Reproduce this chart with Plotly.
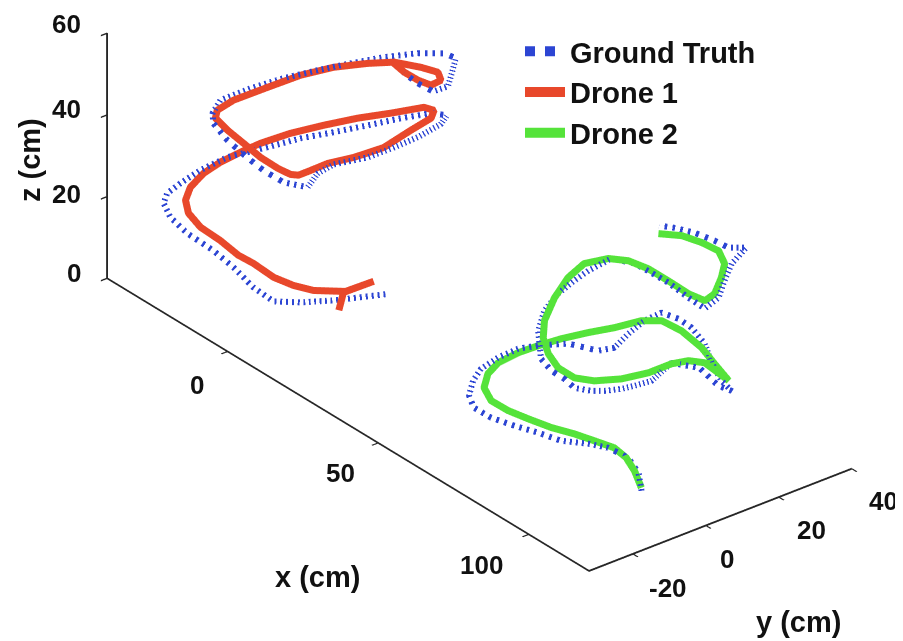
import plotly.graph_objects as go

# ---------------- data (cm) ----------------
# Drone 1 estimated trajectory
d1_x = [0.7, 0.8, 1.0, 2.1, -1.0, -3.9, -7.8, -12.4, -15.7, -20.3, -24.5, -26.7, -27.3, -26.9, -27.1, -25.9, -23.9,
        -22.9, -21.0, -18.0, -14.6, -10.6, -6.9, -3.9, -1.0, 1.1, 4.0, 4.1, 3.4, 4.2, 4.9, 4.3, 1.3, -3.2, -8.7,
        -13.8, -18.1, -19.1, -19.0, -17.5, -15.9, -12.9, -9.1, -5.4, 0.5, 5.0, 8.1, 8.4, 5.1, 0.6, -3.7]
d1_y = [-2.1, -0.9, 7.2, -1.4, -7.6, -10.7, -12.9, -14.7, -16.1, -17.3, -19.2, -20.7, -21.0, -20.0, -16.2, -12.6,
        -8.7, -4.1, 2.5, 9.2, 15.7, 21.5, 27.5, 27.8, 24.6, 17.3, 7.5, -0.8, -7.4, -12.7, -16.6, -18.3, -19.3, -20.3,
        -20.4, -20.6, -20.4, -19.1, -14.7, -6.6, 1.1, 7.7, 13.9, 18.1, 20.6, 21.5, 19.8, 16.8, 16.0, 15.9, 16.6]
d1_z = [0, 4, 4, 5, 6, 7, 8, 10, 11, 13, 15, 18, 21, 24, 26, 28, 30, 31, 32, 33, 34, 35, 36, 36.5, 37, 37.5, 38,
        38.5, 39, 39.5, 40, 40.5, 41, 42, 43, 44, 45, 46, 47, 48, 49, 50, 50.5, 51, 51.5, 52, 52, 52, 52, 52, 52]

# Ground truth for drone 1
gt1_x = [1.4, -0.8, -3.3, -5.5, -8.0, -11.2, -15.0, -19.2, -24.2, -27.6, -29.1, -29.2, -28.1, -27.2, -25.3, -20.7,
         -18.0, -14.4, -10.9, -7.6, -4.0, -0.6, 2.3, 4.3, 5.3, 5.9, 4.5, 6.1, 10.1, 6.7, 1.5, -3.6, -10.5, -16.6,
         -18.7, -20.7, -19.4, -17.1, -14.0, -11.3, -8.4, -4.6, -0.5, 2.6, 6.8, 11.0, 10.8, 6.1, 0.9]
gt1_y = [10.1, 5.2, -0.3, -7.4, -12.8, -15.7, -18.0, -20.1, -23.1, -24.9, -25.5, -24.5, -21.8, -17.0, -11.2, -4.0,
         2.9, 8.9, 15.4, 21.7, 27.1, 28.6, 24.5, 16.6, 9.2, 1.5, -6.7, -12.3, -18.4, -22.2, -23.4, -23.7, -23.4,
         -22.2, -20.7, -16.9, -9.8, -2.5, 4.2, 11.1, 17.7, 24.0, 27.7, 28.4, 23.9, 19.3, 15.4, 15.1, 15.6]
gt1_z = [0, 0, 0, 1, 2, 5, 9, 12, 15, 18, 21, 23, 25, 27, 29, 31, 32, 33, 34, 35, 36, 36.5, 37, 37.5, 38, 38.5, 39,
         39.5, 40, 41, 42, 43, 44, 45, 46, 47, 48, 49, 50, 50.5, 51, 51.5, 52, 52, 52, 52, 52, 52, 52]

# Drone 2 estimated trajectory
d2_x = [99.1, 93.9, 89.8, 86.3, 82.8, 79.2, 75.5, 70.9, 67.0, 63.5, 60.3, 58.2, 57.9, 59.2, 61.5, 64.2, 67.7, 71.5,
        74.7, 78.7, 86.0, 95.6, 104.0, 112.8, 105.1, 103.0, 102.5, 103.2, 102.4, 100.9, 98.7, 94.6, 90.0, 85.4, 81.2,
        76.2, 72.6, 71.4, 74.2, 78.9, 85.5, 93.5, 101.8, 107.6, 107.9, 104.8, 101.9, 98.2, 93.9, 89.7, 86.7]
d2_y = [-0.4, 2.0, 3.1, 2.7, 0.2, -2.4, -5.6, -8.2, -10.4, -12.2, -11.5, -8.7, -5.6, -1.3, 2.4, 6.4, 11.0, 15.0, 19.7,
        22.0, 21.4, 19.0, 15.6, 12.2, 12.0, 9.3, 5.0, -1.8, -8.6, -14.8, -18.4, -19.5, -18.4, -16.0, -12.2, -5.3, 1.4,
        6.8, 11.1, 12.7, 12.7, 11.6, 10.3, 10.0, 12.4, 16.8, 20.1, 21.5, 20.4, 18.4, 14.5]
d2_z = [0, 1, 2, 3, 4, 5, 6, 7, 8, 9.5, 11, 12.5, 14, 15.5, 17, 18.5, 20, 21.5, 23, 24, 25, 26, 27, 28, 29, 29.5, 30,
        30.5, 31, 32, 33, 34, 35, 36, 37, 38, 39, 40, 41, 42, 43, 44, 45, 46, 47, 48, 49, 50, 50.5, 51, 51.5]

# Ground truth for drone 2
gt2_x = [100.1, 95.1, 90.1, 85.5, 83.0, 79.8, 75.5, 71.5, 67.1, 63.6, 61.0, 58.6, 57.7, 58.2, 59.9, 62.8, 67.4, 75.0,
         77.5, 76.0, 75.1, 76.0, 81.6, 86.9, 94.7, 103.3, 111.3, 116.6, 113.9, 106.1, 101.5, 105.6, 105.7, 105.7,
         104.9, 103.9, 102.0, 99.1, 95.4, 90.7, 82.4, 77.9, 75.3, 74.4, 74.3, 74.6, 80.7, 87.2, 94.2, 103.1, 110.2,
         109.7, 106.2, 102.8, 100.7, 99.1, 95.6, 91.1, 87.5, 84.8]
gt2_y = [-1.2, 2.1, 3.4, 1.7, -1.6, -6.5, -9.2, -12.4, -15.2, -17.0, -16.2, -13.1, -10.2, -5.9, -1.8, 1.3, 5.7, 7.6,
         10.0, 15.1, 20.2, 24.2, 24.2, 23.4, 20.6, 15.4, 11.5, 9.9, 8.5, 9.7, 5.8, -3.0, -7.7, -11.3, -15.3, -18.0,
         -21.2, -21.5, -22.0, -21.0, -14.9, -9.5, -3.6, 1.6, 5.6, 11.6, 13.0, 12.1, 11.1, 9.2, 7.8, 12.0, 16.5, 21.3,
         27.0, 23.5, 22.5, 20.8, 18.2, 16.3]
gt2_z = [0, 1, 2, 3, 4, 5, 6, 7, 8, 9.5, 11, 12.5, 14, 15.5, 17, 18, 19, 20, 21, 22, 23, 24, 25, 25.5, 26, 27, 27.5,
         28, 28.5, 29, 29.5, 30, 30.5, 31, 31.5, 32, 33, 34, 34.5, 35, 36, 37, 38, 39, 40, 41, 42, 43, 44, 45, 46, 47,
         48, 49, 50, 50.5, 51, 51.5, 52, 52]

x_ticks = [0, 50, 100]
y_ticks = [-20, 0, 20, 40]
z_ticks = [0, 20, 40, 60]

BLUE = "#2c45d3"
RED = "#e8482b"
GREEN = "#55e33a"
AX = "#262626"
TXT = "#111111"
FONT = "Liberation Sans"

fig = go.Figure()
fig.add_trace(go.Scatter3d(x=gt1_x, y=gt1_y, z=gt1_z, mode="lines", name="Ground Truth", legendgroup="gt",
                           line=dict(color=BLUE, width=12, dash="dot")))
fig.add_trace(go.Scatter3d(x=gt2_x, y=gt2_y, z=gt2_z, mode="lines", name="Ground Truth", legendgroup="gt",
                           showlegend=False, line=dict(color=BLUE, width=12, dash="dot")))
fig.add_trace(go.Scatter3d(x=d1_x, y=d1_y, z=d1_z, mode="lines", name="Drone 1",
                           line=dict(color=RED, width=14)))
fig.add_trace(go.Scatter3d(x=d2_x, y=d2_y, z=d2_z, mode="lines", name="Drone 2",
                           line=dict(color=GREEN, width=14)))

axstyle = dict(showbackground=False, showgrid=False, zeroline=False, showline=True, linecolor=AX, linewidth=4,
               ticks="outside", tickcolor=AX, ticklen=8, tickwidth=3, showspikes=False, showticklabels=False,
               title=dict(text=""))

center = dict(x=0.0528, y=-0.122, z=-0.2115)
eye = dict(x=2.205, y=-1.845, z=1.322)

tickfont = dict(family=FONT, size=26, color=TXT, weight="bold")
labelfont = dict(family=FONT, size=29, color=TXT, weight="bold")

# tick label placement (paper coordinates) for each tick value
z_lab_pos = [(0.0831, 0.5866), (0.0831, 0.7098), (0.0831, 0.8424), (0.0831, 0.975)]
x_lab_pos = [(0.2093, 0.4119), (0.3677, 0.2746), (0.5249, 0.1310)]
y_lab_pos = [(0.7309, 0.0952), (0.7962, 0.1404), (0.8893, 0.1857), (0.9690, 0.2309)]

annotations = []
for v, (px, py) in zip(z_ticks, z_lab_pos):
    annotations.append(dict(text=str(v), x=px, y=py, xref="paper", yref="paper", showarrow=False,
                            xanchor="right", yanchor="middle", font=tickfont))
for v, (px, py) in zip(x_ticks, x_lab_pos):
    annotations.append(dict(text=str(v), x=px, y=py, xref="paper", yref="paper", showarrow=False,
                            xanchor="center", yanchor="middle", font=tickfont))
for v, (px, py) in zip(y_ticks, y_lab_pos):
    annotations.append(dict(text=str(v), x=px, y=py, xref="paper", yref="paper", showarrow=False,
                            xanchor="center", yanchor="middle", font=tickfont))
annotations += [
    dict(text="z (cm)", x=0.0244, y=0.7629, xref="paper", yref="paper", showarrow=False, textangle=-90,
         xanchor="center", yanchor="middle", font=labelfont),
    dict(text="x (cm)", x=0.3422, y=0.1123, xref="paper", yref="paper", showarrow=False,
         xanchor="center", yanchor="middle", font=labelfont),
    dict(text="y (cm)", x=0.8749, y=0.0421, xref="paper", yref="paper", showarrow=False,
         xanchor="center", yanchor="middle", font=labelfont),
]

fig.update_layout(
    width=903, height=641,
    margin=dict(l=0, r=0, t=0, b=0),
    paper_bgcolor="white",
    showlegend=True,
    legend=dict(x=0.567, y=0.972, xanchor="left", yanchor="top", bgcolor="rgba(0,0,0,0)",
                font=dict(family=FONT, size=29, color=TXT, weight="bold"),
                itemwidth=40, tracegroupgap=0),
    scene=dict(
        domain=dict(x=[0, 1], y=[0, 1]),
        xaxis=dict(range=[-40, 120], tickvals=x_ticks, **axstyle),
        yaxis=dict(range=[-32, 40], tickvals=y_ticks, **axstyle),
        zaxis=dict(range=[0, 60], tickvals=z_ticks, **axstyle),
        aspectmode="manual",
        aspectratio=dict(x=2.406, y=1.050, z=0.875),
        camera=dict(projection=dict(type="orthographic"), eye=eye, center=center, up=dict(x=0, y=0, z=1)),
    ),
    annotations=annotations,
)

fig.write_html("out.html")
